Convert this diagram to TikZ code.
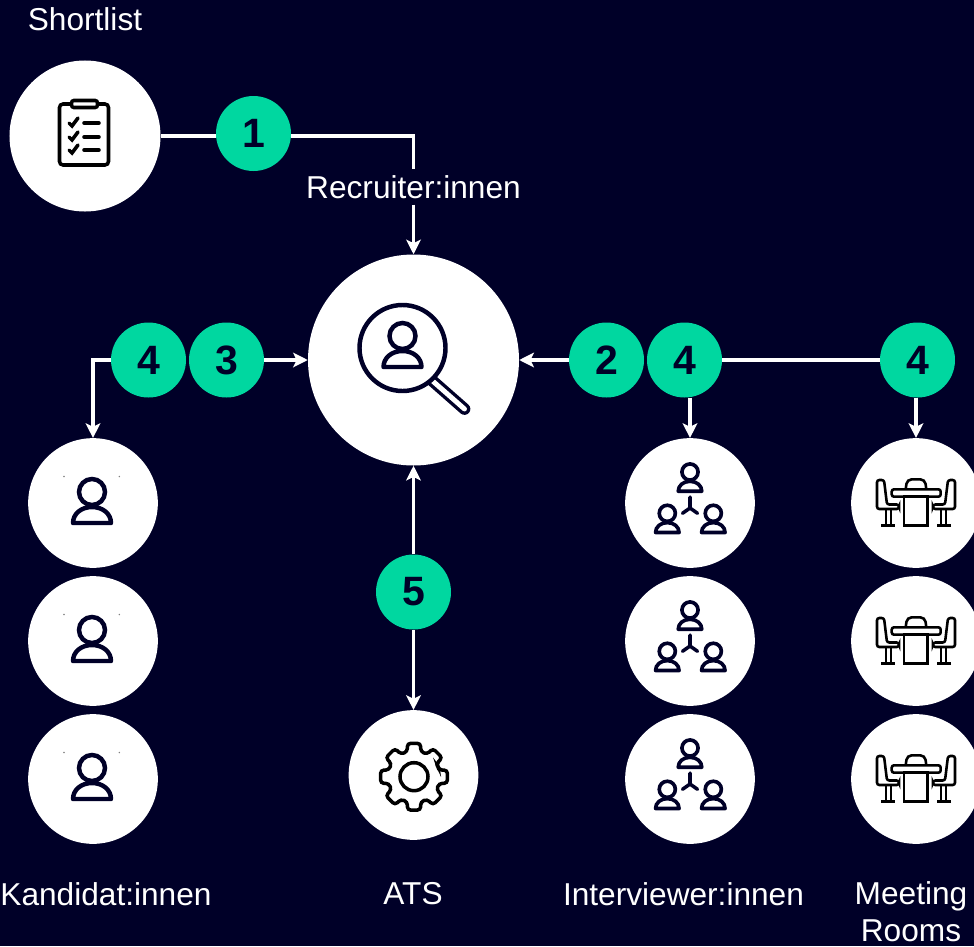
\documentclass[tikz,border=0pt]{standalone}
\usepackage{fontspec}
\setmainfont{Liberation Sans}
\usepackage{tikz}
\usetikzlibrary{arrows.meta}

\definecolor{NightBlue}{HTML}{000028}
\definecolor{BadgeGreen}{HTML}{00D7A0}

\tikzset{
	pics/person/.style={code={
		\draw (0,0) circle (13);
		\draw [line join=round] (-19,31) .. controls (-19,22) and (-11,15) .. (0,15) .. controls (11,15) and (19,22) .. (19,31) -- cycle;
	}},
	pics/candidate/.style={code={
		\pic [line width=3.8pt] at (-1,-11) {person};
		\fill [gray] (-29,-26.5) circle (.8) (26.3,-26.5) circle (.8);
	}},
	pics/searchicon/.style={code={
		\draw [line width=10pt, line cap=round] (18,20) -- (51,49);
		\draw [draw=white, line width=4.2pt, line cap=round] (18,20) -- (51,49);
		\draw [line width=3.8pt, fill=white] (-11,-12) circle (43);
		\pic [line width=3.8pt] at (-11,-24) {person};
	}},
	pics/clipboard/.style={code={
		\draw [line width=3pt, rounded corners=3pt] (-14,-32) -- (-25.5,-32) -- (-25.5,29) -- (23.5,29) -- (23.5,-32) -- (13,-32);
		\draw [line width=3pt, rounded corners=2pt, fill=white] (-13.5,-35.5) rectangle (12.5,-28.5);
		\foreach \row in {-13,1,14} {
			\draw [line width=3pt, line cap=round] (-1,\row) -- (14,\row);
			\draw [line width=3pt, line cap=round] (-16,\row) -- (-13,{\row+3}) -- (-7,{\row-5});
		}
	}},
	pics/interviewers/.style={code={
		\pic [scale=.62, line width=3.1pt] at (0,-31) {person};
		\pic [scale=.62, line width=3.1pt] at (-22.7,10.3) {person};
		\pic [scale=.62, line width=3.1pt] at (23.3,10.3) {person};
		\draw [line width=3pt, line cap=round] (0,-6) -- (0,5) -- (-7.5,10.3) (0,5) -- (7.5,10.3);
	}},
	pics/chair/.style={code={
		\draw [rounded corners=2pt] (-39,-23) -- (-39,6) -- (-17,6) -- (-17,1.5) -- (-29,1.5) -- (-32,-23) -- cycle;
		\draw (-30,6) -- (-30,22.7) (-25,6) -- (-25,22.7) (-35,22.7) -- (-21,22.7);
	}},
	pics/room/.style={code={
		\draw [rounded corners=2pt] (-24.3,-13.7) rectangle (24.7,-6.3);
		\draw [rounded corners=4pt] (-10.3,-13.7) -- (-9,-23.7) -- (9,-23.7) -- (10.3,-13.7);
		\draw (-12,-6.3) rectangle (11.3,22.7);
		\pic {chair};
		\pic [xscale=-1] {chair};
	}},
	pics/gear/.style={code={
		\draw [shift={(.5,1.7)}, rounded corners=2.7pt] (-22.5:26)
			\foreach \a in {0,45,...,315} { -- ({\a-15}:26) -- ({\a-11}:34) -- ({\a+11}:34) -- ({\a+15}:26) } -- cycle;
		\draw (.5,1.7) circle (14);
	}}
}

\begin{document}
\begin{tikzpicture}[x=.03cm, y=-.03cm]
	\tikzstyle{BigCircle}	= [circle, fill=white, inner sep=0pt, minimum size=6.33cm]
	\tikzstyle{TopCircle}	= [circle, fill=white, inner sep=0pt, minimum size=4.53cm]
	\tikzstyle{SmallCircle}	= [circle, fill=white, inner sep=0pt, minimum size=3.89cm]
	\tikzstyle{Badge}		= [circle, fill=BadgeGreen, text=NightBlue, inner sep=0pt, minimum size=2.25cm, font=\fontsize{35}{35}\selectfont\bfseries]
	\tikzstyle{Caption}		= [text=white, inner sep=0pt, align=center, font=\fontsize{27}{31.6}\selectfont]
	\tikzstyle{Icon}		= [draw=NightBlue, line width=2.5pt]
	\tikzstyle{BlackIcon}	= [draw=black, line width=2.2pt]
	\tikzstyle{Plain}		= [draw=white, line width=3pt]
	\tikzstyle{Flow}		= [Plain, -{Stealth[inset=3pt, length=12.5pt, width=12.5pt]}]

	\clip (0,0) rectangle (974,946);
	\fill [NightBlue] (0,0) rectangle (974,946);

	\node (shortlist) at (85,136) [TopCircle] {};
	\node (search) at (413.5,360) [BigCircle] {};
	\node (kand1) at (93,503) [SmallCircle] {};
	\node (kand2) at (93,641) [SmallCircle] {};
	\node (kand3) at (93,779) [SmallCircle] {};
	\node (ats) at (413.5,775) [SmallCircle] {};
	\node (inter1) at (690,503) [SmallCircle] {};
	\node (inter2) at (690,641) [SmallCircle] {};
	\node (inter3) at (690,779) [SmallCircle] {};
	\node (room1) at (916,503) [SmallCircle] {};
	\node (room2) at (916,641) [SmallCircle] {};
	\node (room3) at (916,779) [SmallCircle] {};

	\node (b1) at (253.5,133.5) [Badge] {1};
	\node (b4left) at (148.5,360) [Badge] {4};
	\node (b3) at (226.5,360) [Badge] {3};
	\node (b2) at (606.5,360) [Badge] {2};
	\node (b4mid) at (684.5,360) [Badge] {4};
	\node (b4right) at (917.5,360) [Badge] {4};
	\node (b5) at (413.5,592) [Badge] {5};

	\node (tshort) at (85,19) [Caption] {Shortlist};
	\node (trec) at (413.5,187) [Caption, inner ysep=5pt] {Recruiter:innen};
	\node (tkand) at (106,894) [Caption] {Kandidat:innen};
	\node (tats) at (413,894) [Caption] {ATS};
	\node (tinter) at (683.5,894) [Caption] {Interviewer:innen};
	\node (troom) at (911,912) [Caption] {Meeting\\Rooms};

	\pic [BlackIcon, line width=2.6pt] at (shortlist) {clipboard};
	\pic [Icon] at (search) {searchicon};
	\pic [Icon] at (kand1) {candidate};
	\pic [Icon] at (kand2) {candidate};
	\pic [Icon] at (kand3) {candidate};
	\pic [BlackIcon, line width=3pt] at (ats) {gear};
	\pic [Icon] at (inter1) {interviewers};
	\pic [Icon] at (inter2) {interviewers};
	\pic [Icon] at (inter3) {interviewers};
	\pic [BlackIcon] at (room1) {room};
	\pic [BlackIcon] at (room2) {room};
	\pic [BlackIcon] at (room3) {room};

	\draw [Plain] (shortlist.east) to (b1.west |- shortlist.east);
	\draw [Plain] (b1.east |- shortlist.east) -| (trec.north);
	\draw [Flow] (trec) to (search);
	\draw [Flow] (b3) to (search);
	\draw [Flow] (b4left) -| (kand1);
	\draw [Flow] (b2) to (search);
	\draw [Plain] (b4mid) to (b4right);
	\draw [Flow] (b4mid.south -| inter1) to (inter1);
	\draw [Flow] (b4right.south -| room1) to (room1);
	\draw [Flow] (b5) to (search);
	\draw [Flow] (b5) to (ats);
\end{tikzpicture}
\end{document}
